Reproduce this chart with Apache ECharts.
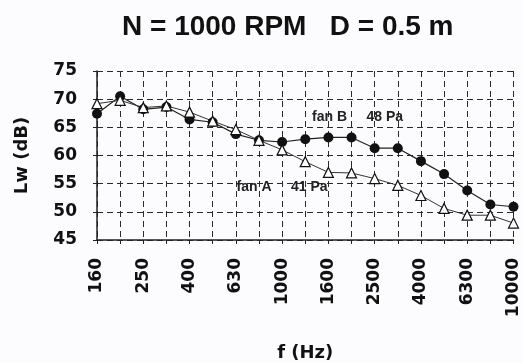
<!DOCTYPE html>
<html>
<head>
<meta charset="utf-8">
<script src="https://cdn.jsdelivr.net/npm/echarts@6/dist/echarts.min.js"></script>
<style>
html, body { margin: 0; padding: 0; background: #fcfcfe; }
#chart { width: 522px; height: 363px; }
</style>
</head>
<body>
<div id="chart"></div>
<script>
// 1/3 octave bands
const freqs = ['160', '200', '250', '315', '400', '500', '630', '800', '1000', '1250',
    '1600', '2000', '2500', '3150', '4000', '5000', '6300', '8000', '10000'];
// fan B - 48 Pa (filled circles)
const fanB = [67.4, 70.5, 68.2, 68.6, 66.4, 65.9, 63.8, 62.7, 62.4, 62.9,
    63.2, 63.2, 61.3, 61.3, 59.0, 56.7, 53.8, 51.3, 50.9];
// fan A - 41 Pa (open triangles)
const fanA = [69.2, 69.8, 68.5, 68.8, 67.7, 66.1, 64.6, 62.7, 61.0, 58.9,
    57.0, 56.9, 55.9, 54.7, 52.9, 50.6, 49.4, 49.4, 48.0];

const tickFont = 'DejaVu Sans';
const dash = { color: '#2a2a2a', width: 1, type: [6, 4] };

let chart = echarts.init(document.getElementById('chart'));
let option = {
    backgroundColor: '#fcfcfe',
    animation: false,
    title: {
        text: 'N = 1000 RPM   D = 0.5 m',
        left: 117,
        top: 8,
        textStyle: { fontFamily: 'Liberation Sans', fontWeight: 'bold', fontSize: 28, color: '#111' }
    },
    grid: { left: 97, right: 5, top: 71, bottom: 122 },
    xAxis: {
        type: 'category',
        data: freqs,
        boundaryGap: false,
        name: 'f (Hz)',
        nameLocation: 'middle',
        nameGap: 104,
        nameTextStyle: { fontFamily: tickFont, fontWeight: 'bold', fontSize: 18, color: '#111' },
        axisLine: { lineStyle: { color: '#222', width: 1.5 } },
        axisTick: { show: true, length: 4, interval: 0, lineStyle: { color: '#222' } },
        axisLabel: {
            interval: 1,
            rotate: 90,
            margin: 18,
            fontFamily: tickFont, fontWeight: 'bold', fontSize: 17, color: '#111'
        },
        splitLine: { show: true, interval: 0, lineStyle: dash }
    },
    yAxis: {
        type: 'value',
        min: 45,
        max: 75,
        interval: 5,
        name: 'Lw (dB)',
        nameLocation: 'middle',
        nameGap: 66,
        nameTextStyle: { fontFamily: tickFont, fontWeight: 'bold', fontSize: 18, color: '#111' },
        axisLine: { show: true, lineStyle: { color: '#222', width: 1.5 } },
        axisTick: { show: true, length: 4, lineStyle: { color: '#222' } },
        axisLabel: { margin: 20, fontFamily: tickFont, fontWeight: 'bold', fontSize: 17, color: '#111' },
        splitLine: { show: true, lineStyle: dash }
    },
    series: [
        {
            name: 'fan B',
            type: 'line',
            data: fanB,
            symbol: 'circle',
            symbolSize: 10,
            itemStyle: { color: '#111' },
            lineStyle: { color: '#222', width: 1.2 },
            markPoint: {
                symbolSize: 0,
                data: [
                    { coord: ['2000', 66.75], label: { show: true, formatter: 'fan B     48 Pa', offset: [6, 0] } }
                ],
                label: { fontFamily: 'Liberation Sans', fontWeight: 'bold', fontSize: 14, color: '#222' }
            }
        },
        {
            name: 'fan A',
            type: 'line',
            data: fanA,
            symbol: 'triangle',
            symbolSize: 10,
            itemStyle: { color: '#fff', borderColor: '#111', borderWidth: 1.2 },
            lineStyle: { color: '#333', width: 1 },
            markPoint: {
                symbolSize: 0,
                data: [
                    { coord: ['1000', 54.3], label: { show: true, formatter: 'fan A     41 Pa', offset: [0, 0] } }
                ],
                label: { fontFamily: 'Liberation Sans', fontWeight: 'bold', fontSize: 14, color: '#222' }
            }
        }
    ]
};
chart.setOption(option);
</script>
</body>
</html>
